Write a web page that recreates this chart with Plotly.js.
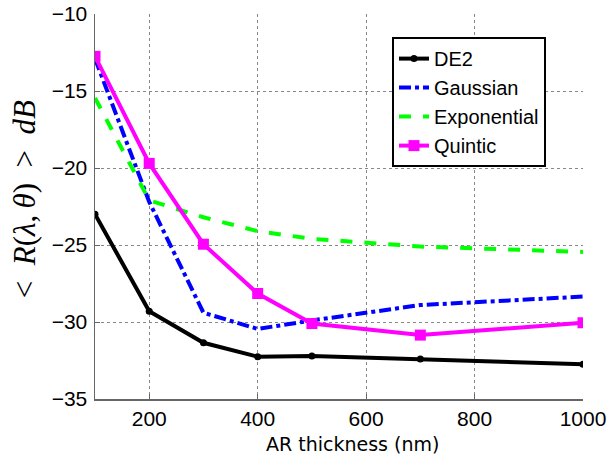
<!DOCTYPE html>
<html><head><meta charset="utf-8">
<script src="https://cdn.plot.ly/plotly-3.0.1.min.js"></script>
<style>html,body{margin:0;padding:0;background:#fff}#plot{width:609px;height:456px}</style>
</head><body><div id="plot"></div>
<script>
const thickness = [100, 200, 300, 400, 500, 700, 1000];
const de2 = [-23.0, -29.3, -31.35, -32.25, -32.2, -32.4, -32.75];
const gaussian = [-12.9, -22.2, -29.4, -30.45, -29.9, -28.9, -28.35];
const exponential = [-15.45, -22.1, -23.2, -24.1, -24.6, -25.1, -25.45];
const quintic = [-12.75, -19.7, -24.95, -28.15, -30.1, -30.85, -30.05];
const seriesNames = ['DE2', 'Gaussian', 'Exponential', 'Quintic'];
const xTicks = [200, 400, 600, 800, 1000];
const yTicks = [-35, -30, -25, -20, -15, -10];
const xTitle = 'AR thickness (nm)';
const yTitle = '&lt;\u2002<i>R</i>(<i>λ</i>,\u2009<i>θ</i>)\u2002&gt;\u2002<i>dB</i>';

const traces = [
  {x: thickness, y: de2, name: seriesNames[0], mode: 'lines+markers',
   line: {color: '#000000', width: 4}, marker: {symbol: 'circle', size: 7, color: '#000000'}},
  {x: thickness, y: gaussian, name: seriesNames[1], mode: 'lines',
   line: {color: '#0000ff', width: 4, dash: 'dashdot'}},
  {x: thickness, y: exponential, name: seriesNames[2], mode: 'lines',
   line: {color: '#00ff00', width: 4, dash: 'dash'}},
  {x: thickness, y: quintic, name: seriesNames[3], mode: 'lines+markers',
   line: {color: '#ff00ff', width: 4}, marker: {symbol: 'square', size: 11, color: '#ff00ff'}}
];

const layout = {
  width: 609, height: 456,
  margin: {l: 95, r: 26, t: 14, b: 57},
  paper_bgcolor: '#ffffff', plot_bgcolor: '#ffffff',
  font: {family: 'Liberation Sans, Arial, sans-serif', size: 21, color: '#000'},
  showlegend: true,
  legend: {x: 0.6086, y: 0.94, xanchor: 'left', yanchor: 'top',
    bordercolor: '#000', borderwidth: 2, bgcolor: '#fff',
    font: {family: 'Liberation Sans, Arial, sans-serif', size: 20},
    itemwidth: 30},
  xaxis: {
    range: [100, 1000], tickvals: xTicks, ticktext: xTicks.map(String),
    showgrid: true, gridcolor: '#888', griddash: 'dot', gridwidth: 1,
    showline: true, linecolor: '#666', linewidth: 1.5,
    ticks: 'inside', ticklen: 5, tickcolor: '#666',
    zeroline: false, tickfont: {size: 21}, ticklabelstandoff: 0
  },
  yaxis: {
    range: [-35, -10], tickvals: yTicks, ticktext: yTicks.map(v => '\u2212' + Math.abs(v)),
    showgrid: true, gridcolor: '#888', griddash: 'dot', gridwidth: 1,
    showline: true, linecolor: '#666', linewidth: 1.5,
    ticks: 'inside', ticklen: 5, tickcolor: '#666',
    zeroline: false, tickfont: {size: 21}, ticklabelstandoff: 2
  },
  annotations: [
    {text: xTitle, xref: 'paper', yref: 'paper', x: 0.527, y: -0.1169,
     xanchor: 'center', yanchor: 'middle', showarrow: false, borderpad: 0,
     font: {family: 'DejaVu Sans, sans-serif', size: 19, color: '#000'}},
    {text: yTitle, xref: 'paper', yref: 'paper', x: -0.1455, y: 0.519,
     xanchor: 'center', yanchor: 'middle', showarrow: false, textangle: -90,
     font: {family: 'Liberation Serif, DejaVu Serif, serif', size: 31, color: '#000'}}
  ]
};

Plotly.newPlot('plot', traces, layout, {displayModeBar: false, staticPlot: true});
</script></body></html>
